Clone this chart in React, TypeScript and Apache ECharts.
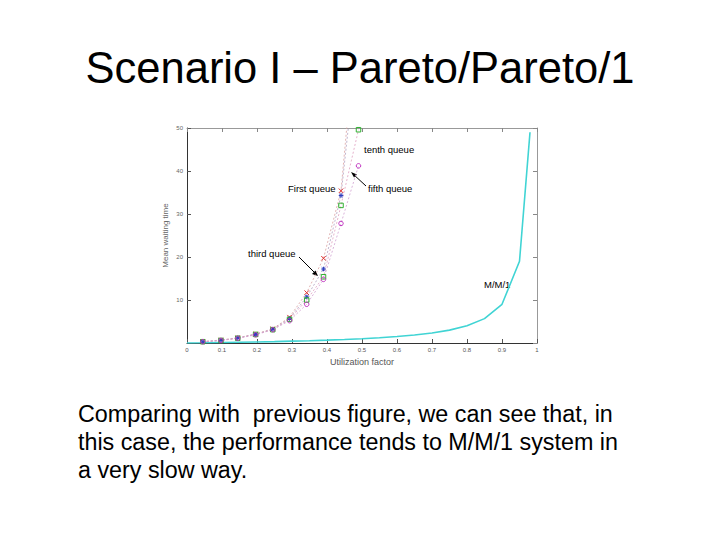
import React, { useEffect, useRef } from "react";
import * as echarts from "echarts";

const xs = [0.045, 0.097, 0.145, 0.196, 0.245, 0.293, 0.342, 0.39, 0.44, 0.49];
const firstQueue = [0.3, 0.7, 1.2, 2.1, 3.3, 6.0, 11.7, 19.7, 35.4, 80];
const thirdQueue = [0.3, 0.6, 1.2, 2.0, 3.2, 5.7, 10.7, 17.2, 34.3, 72];
const fifthQueue = [0.3, 0.6, 1.1, 2.0, 3.1, 5.5, 10.0, 15.4, 32.0, 49.6];
const tenthQueue = [0.3, 0.6, 1.1, 1.9, 3.1, 5.2, 9.0, 14.8, 27.8, 41.2];

const mmX = [0, 0.05, 0.1, 0.15, 0.2, 0.25, 0.3, 0.35, 0.4, 0.45, 0.5, 0.55, 0.6, 0.65, 0.7, 0.75, 0.8, 0.85, 0.9, 0.95, 0.98];
const mmY = [0, 0.05, 0.11, 0.18, 0.25, 0.33, 0.43, 0.54, 0.67, 0.82, 1.0, 1.22, 1.5, 1.86, 2.33, 3.0, 4.0, 5.67, 9.0, 19.0, 49.0];

const xTicks = ["0", "0.1", "0.2", "0.3", "0.4", "0.5", "0.6", "0.7", "0.8", "0.9", "1"];

const titleText = "Scenario I – Pareto/Pareto/1";
const bodyText = "Comparing with  previous figure, we can see that, in\nthis case, the performance tends to M/M/1 system in\na very slow way.";

const FONT = "Liberation Sans, Arial, sans-serif";

export default function App() {
  const ref = useRef<HTMLDivElement>(null);
  useEffect(() => {
    if (!ref.current) return;
    const chart = echarts.init(ref.current, undefined, { renderer: "svg" });
    const pairs = (ys: number[]) => xs.map((x, i) => [x, ys[i]]);
    const queueSeries = (name: string, ys: number[], color: string, symbol: string, lineColor: string) => ({
      name,
      type: "line",
      data: pairs(ys),
      symbol,
      symbolSize: 4.5,
      showSymbol: true,
      clip: true,
      itemStyle: { color: "transparent", borderColor: color, borderWidth: 1 },
      lineStyle: { color: lineColor, width: 0.8, type: [2, 2] },
    });
    chart.setOption({
      animation: false,
      backgroundColor: "#ffffff",
      grid: { left: 187, right: 183, top: 128, bottom: 197 },
      xAxis: [
        {
          type: "value",
          min: 0,
          max: 1,
          interval: 0.1,
          axisLine: { onZero: false, lineStyle: { color: "#333", width: 1 } },
          axisTick: { inside: true, length: 4, lineStyle: { color: "#555" } },
          axisLabel: {
            fontSize: 6,
            color: "#555",
            fontFamily: FONT,
            margin: 4,
            formatter: (v: number) => xTicks[Math.round(v * 10)],
          },
          splitLine: { show: false },
          name: "Utilization factor",
          nameLocation: "middle",
          nameGap: 14,
          nameTextStyle: { fontSize: 9, color: "#555", fontFamily: FONT },
        },
        {
          type: "value",
          position: "top",
          min: 0,
          max: 1,
          interval: 0.1,
          axisLine: { onZero: false, lineStyle: { color: "#999", width: 1 } },
          axisTick: { inside: true, length: 4, lineStyle: { color: "#888" } },
          axisLabel: { show: false },
          splitLine: { show: false },
        },
      ],
      yAxis: [
        {
          type: "value",
          min: 0,
          max: 50,
          interval: 10,
          axisLine: { show: true, onZero: false, lineStyle: { color: "#333", width: 1 } },
          axisTick: { show: true, inside: true, length: 4, lineStyle: { color: "#555" } },
          axisLabel: { fontSize: 6, color: "#666", fontFamily: FONT, margin: 4, showMinLabel: false },
          splitLine: { show: false },
          name: "Mean waiting time",
          nameLocation: "middle",
          nameGap: 18,
          nameRotate: 90,
          nameTextStyle: { fontSize: 8, color: "#666", fontFamily: FONT },
        },
        {
          type: "value",
          position: "right",
          min: 0,
          max: 50,
          interval: 10,
          axisLine: { show: true, onZero: false, lineStyle: { color: "#999", width: 1 } },
          axisTick: { show: true, inside: true, length: 4, lineStyle: { color: "#888" } },
          axisLabel: { show: false },
          splitLine: { show: false },
        },
      ],
      series: [
        {
          name: "M/M/1",
          type: "line",
          data: mmX.map((x, i) => [x, mmY[i]]),
          showSymbol: false,
          symbol: "none",
          clip: true,
          lineStyle: { color: "#40d4d4", width: 1.6 },
        },
        queueSeries("First queue", firstQueue, "#e03030", "path://M0,0L10,10M10,0L0,10", "#d9a0a0"),
        queueSeries("third queue", thirdQueue, "#3040c0", "path://M5,0L5,10M0,5L10,5M1,1L9,9M9,1L1,9", "#b0a0c0"),
        queueSeries("fifth queue", fifthQueue, "#30b030", "rect", "#e0a0c0"),
        queueSeries("tenth queue", tenthQueue, "#c030c0", "circle", "#d0a0d0"),
      ],
      graphic: [
        {
          type: "text",
          left: "center",
          top: 46,
          style: { text: titleText, fontSize: 43.5, fontFamily: FONT, fill: "#000" },
        },
        {
          type: "text",
          left: 78,
          top: 400,
          style: { text: bodyText, fontSize: 23.3, lineHeight: 28, fontFamily: FONT, fill: "#000" },
        },
        { type: "text", left: 364, top: 144, style: { text: "tenth queue", fontSize: 9.5, fontFamily: FONT, fill: "#000" } },
        { type: "text", left: 288, top: 183, style: { text: "First queue", fontSize: 9.5, fontFamily: FONT, fill: "#000" } },
        { type: "text", left: 368, top: 183, style: { text: "fifth queue", fontSize: 9.5, fontFamily: FONT, fill: "#000" } },
        { type: "text", left: 248, top: 248, style: { text: "third queue", fontSize: 9.5, fontFamily: FONT, fill: "#000" } },
        { type: "text", left: 484, top: 279, style: { text: "M/M/1", fontSize: 9.5, fontFamily: FONT, fill: "#000" } },
        { type: "line", shape: { x1: 366, y1: 186, x2: 353, y2: 174 }, style: { stroke: "#000", lineWidth: 1 } },
        { type: "polygon", shape: { points: [[351, 172], [357, 174.5], [354, 177.5]] }, style: { fill: "#000" } },
        { type: "line", shape: { x1: 299, y1: 257, x2: 316, y2: 274 }, style: { stroke: "#000", lineWidth: 1 } },
        { type: "polygon", shape: { points: [[318, 276], [312, 274], [315.5, 270.5]] }, style: { fill: "#000" } },
      ],
    });
    return () => chart.dispose();
  }, []);
  return <div ref={ref} style={{ position: "fixed", left: 0, top: 0, width: 720, height: 540 }} />;
}
